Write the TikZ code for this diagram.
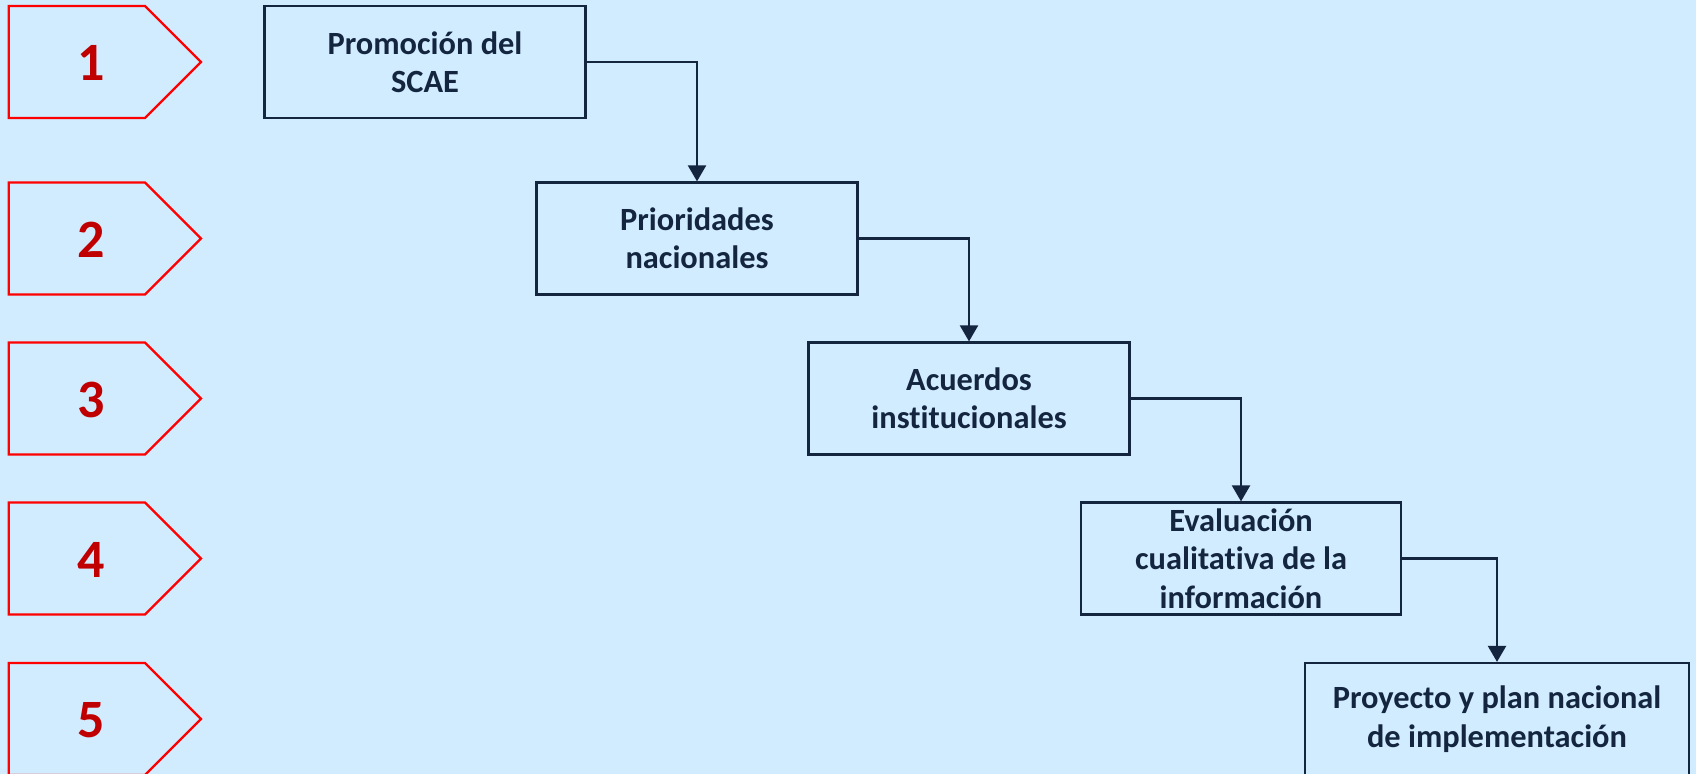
\documentclass[tikz,border=0pt]{standalone}
\usepackage{fontspec}
\setmainfont{Carlito}[Ligatures=NoCommon]
\usetikzlibrary{arrows.meta}
\definecolor{fondo}{HTML}{D1ECFE}
\definecolor{marino}{HTML}{14253F}
\definecolor{rojo}{HTML}{C00000}
\tikzset{
  paso/.style={draw=marino,line width=1.1pt,fill=fondo,text=marino,
    font=\fontsize{16.2}{19.2}\selectfont\bfseries,align=center,
    minimum width=160.5pt,minimum height=56pt,inner sep=0pt},
  flecha/.style={draw=marino,line width=1.1pt,-{Triangle[width=9pt,length=8pt]}},
  numero/.style={text=rojo,font=\fontsize{27}{30}\selectfont\bfseries}
}
\begin{document}
\begin{tikzpicture}[x=0.5pt,y=-0.5pt]
  \fill[fondo] (0,0) rectangle (1696,774);
  \useasboundingbox (0,0) rectangle (1696,774);
  % etapas numeradas
  \foreach \n/\y in {1/62,2/238.5,3/398.5,4/558.5,5/719}{
    \draw[red,line width=1.1pt,line join=miter]
      (8.7,\y-56) -- (145,\y-56) -- (201,\y) -- (145,\y+56) -- (8.7,\y+56) -- cycle;
    \node[numero] (num\n) at (91,\y+1) {\n};
  }
  % pasos
  \node[paso] (promo) at (425,62) {Promoción del\\SCAE};
  \node[paso] (prio) at (697,238.5) {Prioridades\\nacionales};
  \node[paso] (acuerdos) at (969,398.5) {Acuerdos\\institucionales};
  \node[paso,minimum width=160pt] (eval) at (1241,558.5) {Evaluación\\cualitativa de la\\información};
  \node[paso,minimum width=192pt] (proy) at (1497,719) {Proyecto y plan nacional\\de implementación};
  % flechas
  \draw[flecha] (promo.east) -| (prio.north);
  \draw[flecha] (prio.east) -| (acuerdos.north);
  \draw[flecha] (acuerdos.east) -| (eval.north);
  \draw[flecha] (eval.east) -| (proy.north);
\end{tikzpicture}
\end{document}
